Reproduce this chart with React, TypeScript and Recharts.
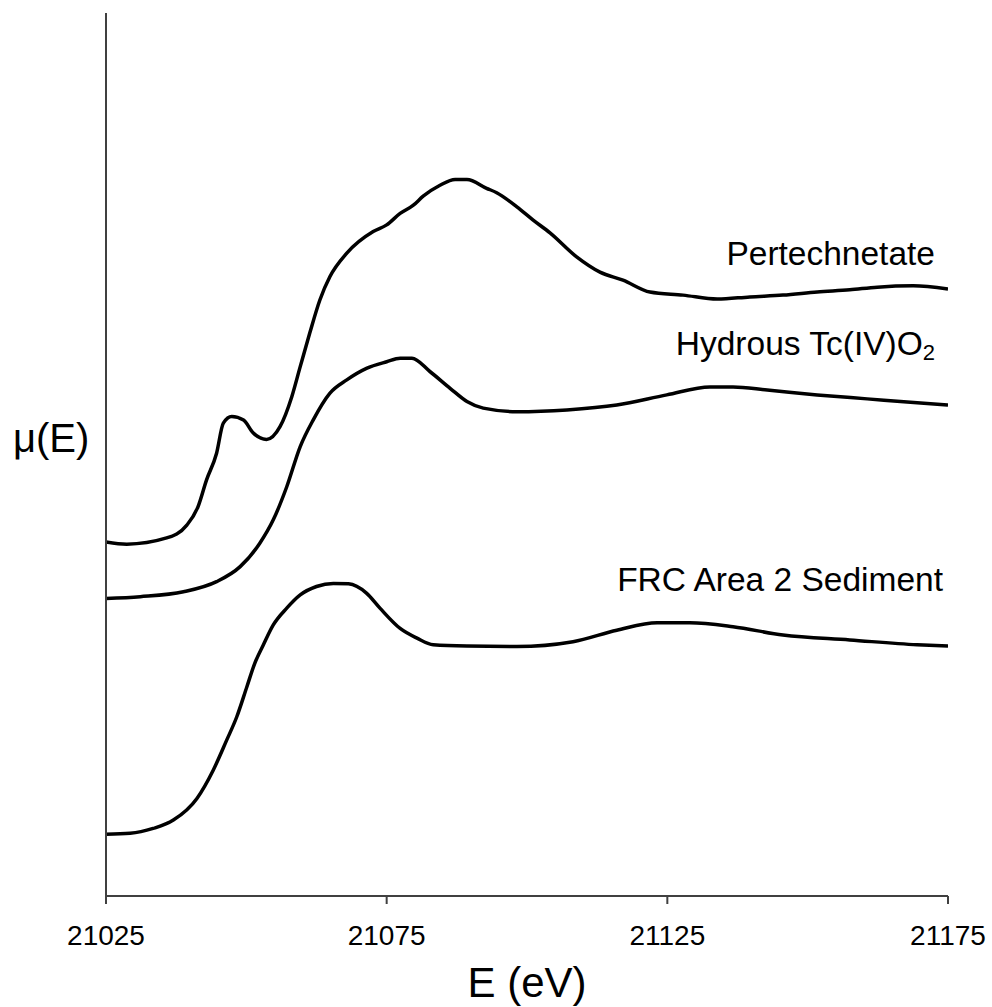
import { Line, LineChart, XAxis, YAxis } from "recharts";

// XANES spectra, offset vertically (arbitrary units).
const X_TICKS = [21025, 21075, 21125, 21175];

const pertechnetateE = [
  21025.0, 21028.7, 21035.8, 21039.4, 21041.4, 21042.9, 21044.7, 21045.9, 21047.4, 21049.5,
  21051.2, 21053.6, 21056.0, 21058.1, 21059.6, 21061.3, 21063.1, 21064.9, 21067.9, 21072.6,
  21075.0, 21077.4, 21079.7, 21081.5, 21084.5, 21087.2, 21089.3, 21092.8, 21094.6, 21098.2,
  21101.1, 21104.1, 21108.9, 21113.0, 21117.1, 21121.9, 21127.8, 21133.9, 21139.7, 21145.6,
  21151.7, 21157.5, 21162.4, 21168.8, 21175.0,
];
const pertechnetateMu = [
  0.802, 0.797, 0.811, 0.840, 0.882, 0.942, 1.003, 1.071, 1.086, 1.078,
  1.049, 1.034, 1.063, 1.131, 1.199, 1.275, 1.350, 1.403, 1.456, 1.505,
  1.520, 1.546, 1.564, 1.585, 1.610, 1.623, 1.623, 1.603, 1.593, 1.561,
  1.531, 1.502, 1.447, 1.413, 1.395, 1.368, 1.361, 1.352, 1.357, 1.361,
  1.368, 1.373, 1.379, 1.382, 1.375,
];

const hydrousE = [
  21025.0, 21031.1, 21038.8, 21044.7, 21048.9, 21052.4, 21054.8, 21057.2, 21059.6, 21061.9,
  21064.9, 21067.9, 21071.4, 21075.0, 21077.4, 21079.5, 21082.7, 21086.3, 21089.3, 21092.2,
  21098.2, 21107.1, 21116.0, 21124.9, 21132.6, 21136.7, 21142.8, 21151.7, 21160.6, 21169.5,
  21175.0,
];
const hydrousMu = [
  0.674, 0.678, 0.689, 0.712, 0.746, 0.799, 0.852, 0.927, 1.018, 1.078,
  1.139, 1.169, 1.195, 1.210, 1.218, 1.218, 1.188, 1.150, 1.120, 1.105,
  1.097, 1.101, 1.112, 1.135, 1.153, 1.153, 1.146, 1.135, 1.126, 1.117,
  1.112,
];

const sedimentE = [
  21025.0, 21029.3, 21033.4, 21037.0, 21041.2, 21044.1, 21046.5, 21048.3, 21050.1, 21051.5,
  21053.0, 21054.8, 21057.2, 21059.6, 21062.5, 21065.5, 21068.2, 21071.4, 21073.8, 21077.4,
  21080.4, 21083.3, 21089.3, 21098.2, 21108.2, 21116.0, 21123.2, 21129.0, 21136.7, 21145.6,
  21157.5, 21169.5, 21175.0,
];
const sedimentMu = [
  0.140, 0.142, 0.153, 0.172, 0.221, 0.285, 0.353, 0.406, 0.474, 0.527,
  0.568, 0.614, 0.652, 0.682, 0.701, 0.708, 0.707, 0.686, 0.652, 0.606,
  0.584, 0.569, 0.566, 0.565, 0.576, 0.602, 0.619, 0.619, 0.610, 0.591,
  0.580, 0.569, 0.566,
];

const toPoints = (e: number[], mu: number[]) => e.map((x, i) => ({ e: x, mu: mu[i] }));

const FONT = "'Liberation Sans', Arial, sans-serif";
const AXIS_COLOR = "#404040";

const SERIES = [
  { key: "pertechnetate", text: "Pertechnetate", sub: "", data: toPoints(pertechnetateE, pertechnetateMu), dx: -13, dy: -24 },
  { key: "hydrous", text: "Hydrous Tc(IV)O", sub: "2", data: toPoints(hydrousE, hydrousMu), dx: -13, dy: -50 },
  { key: "sediment", text: "FRC Area 2 Sediment", sub: "", data: toPoints(sedimentE, sedimentMu), dx: -5, dy: -55 },
];

function XTick(props: any) {
  const { x, y, payload } = props;
  return (
    <text x={x} y={y} dy="0.71em" textAnchor="middle" fontFamily={FONT} fontSize={28} fill="#000">
      {payload.value}
    </text>
  );
}

export default function App() {
  return (
    <div style={{ position: "absolute", left: 0, top: 0, background: "#fff" }}>
      <LineChart width={992} height={1007} margin={{ top: 13, right: 44, bottom: 0, left: 0 }}>
        <XAxis
          type="number"
          dataKey="e"
          domain={[21025, 21175]}
          ticks={X_TICKS}
          allowDataOverflow
          height={111}
          tickSize={8}
          tickMargin={21}
          tick={<XTick />}
          axisLine={{ stroke: AXIS_COLOR, strokeWidth: 2 }}
          tickLine={{ stroke: AXIS_COLOR, strokeWidth: 2 }}
          label={{
            value: "E (eV)",
            position: "insideBottom",
            offset: 10,
            style: { fontFamily: FONT, fontSize: 42, fill: "#000" },
          }}
        />
        <YAxis
          type="number"
          domain={[0, 2]}
          width={106}
          tick={false}
          tickLine={false}
          axisLine={{ stroke: AXIS_COLOR, strokeWidth: 2 }}
          label={{
            content: ({ viewBox }: any) => (
              <text
                x={viewBox.x + 13}
                y={viewBox.y + viewBox.height / 2 - 3}
                fontFamily={FONT}
                fontSize={40}
                fill="#000"
              >
                μ(E)
              </text>
            ),
          }}
        />
        {SERIES.map((s) => (
          <Line
            key={s.key}
            data={s.data}
            dataKey="mu"
            type="monotone"
            stroke="#000"
            strokeWidth={3.5}
            dot={false}
            activeDot={false}
            isAnimationActive={false}
            label={(p: any) => {
              if (p.index !== s.data.length - 1) return null;
              const px = p.x ?? p.viewBox?.x;
              const py = p.y ?? p.viewBox?.y;
              return (
                <text
                  key={`${s.key}-label`}
                  x={px + s.dx}
                  y={py + s.dy}
                  textAnchor="end"
                  fontFamily={FONT}
                  fontSize={33.5}
                  fill="#000"
                >
                  {s.text}
                  {s.sub && (
                    <tspan dy={5} fontSize={22}>
                      {s.sub}
                    </tspan>
                  )}
                </text>
              );
            }}
          />
        ))}
      </LineChart>
    </div>
  );
}
